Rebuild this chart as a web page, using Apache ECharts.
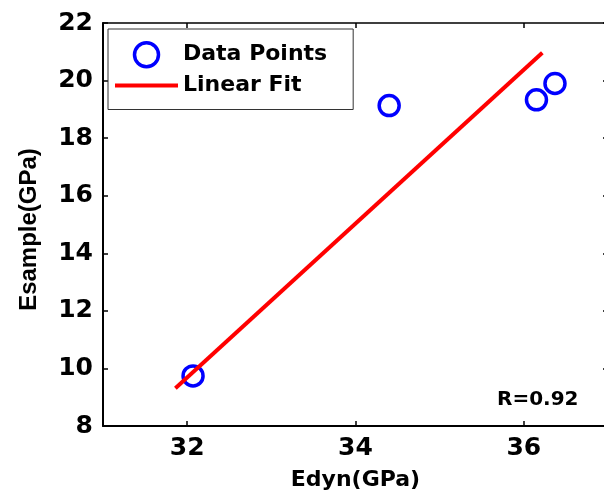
<!DOCTYPE html>
<html>
<head>
<meta charset="utf-8">
<style>
html,body{margin:0;padding:0;background:#fff;}
#chart{width:604px;height:495px;}
</style>
<script src="https://cdn.jsdelivr.net/npm/echarts@6/dist/echarts.min.js"></script>
</head>
<body>
<div id="chart"></div>
<script>
// Data
const edyn = [32.07, 34.40, 36.15, 36.37];
const esample = [9.74, 19.13, 19.33, 19.90];
const fitX = [31.86, 36.22];
const fitY = [9.31, 20.97];
const xTicks = [32, 34, 36];
const yTicks = [8, 10, 12, 14, 16, 18, 20, 22];
const rText = 'R=0.92';

const points = edyn.map((x, i) => [x, esample[i]]);
const fitLine = fitX.map((x, i) => [x, fitY[i]]);

const chart = echarts.init(document.getElementById('chart'), null, {renderer: 'canvas'});
const tickFont = {fontFamily: 'DejaVu Sans', fontWeight: 'bold', fontSize: 25, color: '#000'};
const axisLine = {show: true, lineStyle: {color: '#000', width: 2}};
const axisTick = {show: true, inside: true, length: 5, lineStyle: {color: '#000', width: 1.5}};

chart.setOption({
  animation: false,
  backgroundColor: '#fff',
  grid: {left: 103, top: 23, width: 505, height: 403, containLabel: false, outerBoundsMode: 'none'},
  legend: {
    orient: 'vertical',
    left: 108, top: 29,
    padding: [12, 26, 13, 5],
    itemGap: 6,
    itemWidth: 63, itemHeight: 24,
    borderColor: '#333', borderWidth: 1,
    backgroundColor: '#fff',
    data: [
      {name: 'Data Points', itemStyle: {color: 'rgba(0,0,0,0)', borderColor: '#0000ff', borderWidth: 3.5, opacity: 1}},
      {name: 'Linear Fit', icon: 'inherit', itemStyle: {opacity: 0}, lineStyle: {color: '#ff0000', width: 4}}
    ],
    textStyle: {fontFamily: 'DejaVu Sans', fontWeight: 'bold', fontSize: 22, color: '#000'}
  },
  xAxis: [{
    type: 'value', min: 31, max: 37, position: 'bottom',
    name: 'Edyn(GPa)', nameLocation: 'middle', nameGap: 43,
    nameTextStyle: {fontFamily: 'DejaVu Sans', fontWeight: 'bold', fontSize: 22, color: '#000'},
    axisLine: axisLine,
    axisTick: Object.assign({customValues: xTicks}, axisTick),
    axisLabel: Object.assign({customValues: xTicks, margin: 10}, tickFont),
    splitLine: {show: false}
  }, {
    type: 'value', min: 31, max: 37, position: 'top',
    axisLine: {show: true, lineStyle: {color: '#000', width: 1.5}},
    axisTick: Object.assign({customValues: xTicks}, axisTick),
    axisLabel: {show: false},
    splitLine: {show: false}
  }],
  yAxis: [{
    type: 'value', min: 8, max: 22, interval: 2, position: 'left',
    name: 'Esample(GPa)', nameLocation: 'middle', nameGap: 62,
    nameTextStyle: {fontFamily: 'Liberation Sans', fontWeight: 'bold', fontSize: 24, color: '#000', padding: [0, 10, 0, 0]},
    axisLine: axisLine,
    axisTick: axisTick,
    axisLabel: Object.assign({margin: 10}, tickFont),
    splitLine: {show: false}
  }, {
    type: 'value', min: 8, max: 22, interval: 2, position: 'right',
    axisLine: {show: true, lineStyle: {color: '#000', width: 1.5}},
    axisTick: axisTick,
    axisLabel: {show: false},
    splitLine: {show: false}
  }],
  series: [{
    name: 'Data Points',
    type: 'scatter',
    data: points,
    symbol: 'circle',
    symbolSize: 20,
    itemStyle: {color: 'rgba(0,0,0,0)', borderColor: '#0000ff', borderWidth: 3.5, opacity: 1},
    z: 2
  }, {
    name: 'Linear Fit',
    type: 'line',
    data: fitLine,
    symbol: 'none',
    lineStyle: {color: '#ff0000', width: 4},
    itemStyle: {color: '#ff0000'},
    z: 3
  }],
  graphic: [{
    type: 'text',
    left: 497, top: 390,
    style: {text: rText, fontFamily: 'DejaVu Sans', fontWeight: 'bold', fontSize: 20, fill: '#000'}
  }]
});
</script>
</body>
</html>
